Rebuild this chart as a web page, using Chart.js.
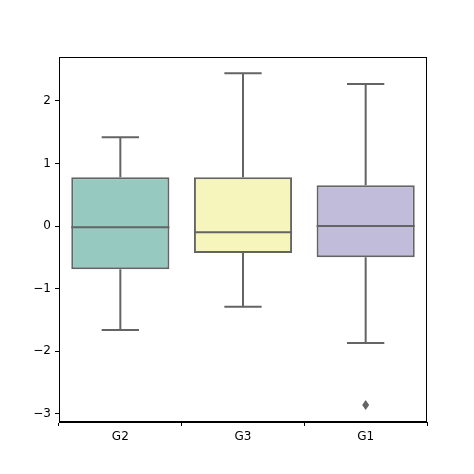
<!DOCTYPE html>
<html><head><meta charset="utf-8">
<script src="https://cdn.jsdelivr.net/npm/chart.js@4/dist/chart.umd.min.js"></script>
<style>body{margin:0;background:#fff}#w{width:474px;height:474px}</style>
</head><body><div id="w"><canvas id="c" width="474" height="474"></canvas></div>
<script>
const groups = ['G2', 'G3', 'G1'];
const whiskerLow = [-1.66, -1.29, -1.87];
const q1 = [-0.69, -0.43, -0.50];
const median = [-0.02, -0.10, 0.00];
const q3 = [0.78, 0.78, 0.65];
const whiskerHigh = [1.42, 2.44, 2.27];
const outliers = [[], [], [-2.86]];
const fills = ['#96c9c0', '#f6f5bc', '#c0bcd9'];
const yTicks = [-3, -2, -1, 0, 1, 2];
const line = '#646464';

const boxPlugin = {
  id: 'boxParts',
  afterDatasetsDraw(chart) {
    const ctx = chart.ctx, x = chart.scales.x, y = chart.scales.y;
    const meta = chart.getDatasetMeta(0);
    ctx.save();
    ctx.strokeStyle = line; ctx.lineWidth = 2;
    groups.forEach((g, i) => {
      const bar = meta.data[i];
      const cx = bar.x, half = bar.width / 2, cap = bar.width * 0.19;
      ctx.beginPath();
      ctx.moveTo(cx, y.getPixelForValue(q3[i])); ctx.lineTo(cx, y.getPixelForValue(whiskerHigh[i]));
      ctx.moveTo(cx, y.getPixelForValue(q1[i])); ctx.lineTo(cx, y.getPixelForValue(whiskerLow[i]));
      ctx.moveTo(cx - cap, y.getPixelForValue(whiskerHigh[i])); ctx.lineTo(cx + cap, y.getPixelForValue(whiskerHigh[i]));
      ctx.moveTo(cx - cap, y.getPixelForValue(whiskerLow[i])); ctx.lineTo(cx + cap, y.getPixelForValue(whiskerLow[i]));
      ctx.moveTo(cx - half, y.getPixelForValue(median[i])); ctx.lineTo(cx + half, y.getPixelForValue(median[i]));
      ctx.stroke();
      ctx.fillStyle = line;
      outliers[i].forEach(v => {
        const py = y.getPixelForValue(v);
        ctx.beginPath();
        ctx.moveTo(cx, py - 5); ctx.lineTo(cx + 3.5, py); ctx.lineTo(cx, py + 5); ctx.lineTo(cx - 3.5, py);
        ctx.closePath(); ctx.fill();
      });
    });
    const a = chart.chartArea;
    ctx.strokeStyle = '#000'; ctx.lineWidth = 1;
    ctx.strokeRect(a.left + 0.5, a.top + 0.5, a.right - a.left - 1, a.bottom - a.top - 1);
    ctx.restore();
  }
};

new Chart(document.getElementById('c'), {
  type: 'bar',
  data: {
    labels: groups,
    datasets: [{
      data: groups.map((g, i) => [q1[i], q3[i]]),
      backgroundColor: fills,
      borderColor: line,
      borderWidth: 2,
      borderSkipped: false,
      barPercentage: 0.8,
      categoryPercentage: 1
    }]
  },
  options: {
    responsive: false,
    animation: false,
    layout: { padding: { top: 57, right: 47, left: 0, bottom: 0 } },
    plugins: { legend: { display: false }, tooltip: { enabled: false } },
    scales: {
      x: {
        grid: { drawOnChartArea: false, tickLength: 4, color: '#000' },
        border: { color: '#000' },
        ticks: { color: '#000', font: { family: 'DejaVu Sans', size: 12 }, padding: 4 },
        afterFit(s) { s.height = 52; }
      },
      y: {
        min: -3.13, max: 2.70,
        afterBuildTicks(s) { s.ticks = yTicks.map(v => ({ value: v })); },
        grid: { drawOnChartArea: false, tickLength: 4, color: '#000' },
        border: { color: '#000' },
        ticks: { color: '#000', font: { family: 'DejaVu Sans', size: 12 }, padding: 4,
          callback: v => String(v).replace('-', '\u2212') },
        afterFit(s) { s.width = 59; }
      }
    }
  },
  plugins: [boxPlugin]
});
</script>
</body></html>
